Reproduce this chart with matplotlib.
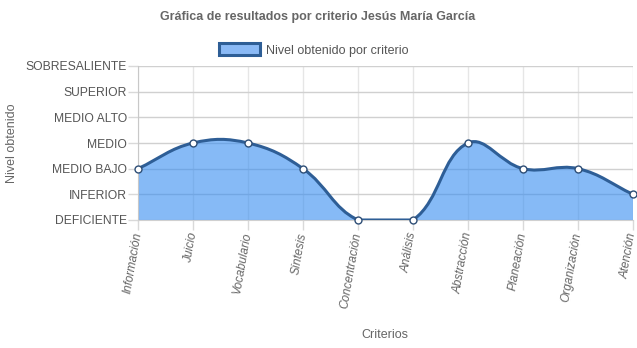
import numpy as np
import matplotlib.pyplot as plt
from matplotlib.path import Path
from matplotlib.patches import PathPatch, Patch

plt.rcParams['font.family'] = ['Liberation Sans', 'DejaVu Sans']

criterios = ['Información', 'Juicio', 'Vocabulario', 'Síntesis', 'Concentración',
             'Análisis', 'Abstracción', 'Planeación', 'Organización', 'Atención']
niveles = ['DEFICIENTE', 'INFERIOR', 'MEDIO BAJO', 'MEDIO', 'MEDIO ALTO',
           'SUPERIOR', 'SOBRESALIENTE']
valores = [2, 3, 3, 2, 0, 0, 3, 2, 2, 1]

W, H = 637, 348
fig = plt.figure(figsize=(W / 100, H / 100), dpi=100)
x0, x1, y0, y1 = 138, 633, 66, 220
ax = fig.add_axes([x0 / W, 1 - y1 / H, (x1 - x0) / W, (y1 - y0) / H])

xs = np.arange(len(criterios), dtype=float)
ys = np.array(valores, dtype=float)
ymax = len(niveles) - 1

# spline with tension 0.4 computed in pixel space, control points kept inside the area
sx = (x1 - x0) / (len(criterios) - 1)
sy = (y1 - y0) / ymax
P = np.column_stack([xs * sx, ys * sy])
tension = 0.4
cp_prev, cp_next = [], []
for i in range(len(P)):
    prev = P[i - 1] if i > 0 else P[i]
    nxt = P[i + 1] if i < len(P) - 1 else P[i]
    d01 = np.hypot(*(P[i] - prev))
    d12 = np.hypot(*(nxt - P[i]))
    tot = d01 + d12
    s01 = d01 / tot if tot else 0
    s12 = d12 / tot if tot else 0
    c1 = P[i] - tension * s01 * (nxt - prev)
    c2 = P[i] + tension * s12 * (nxt - prev)
    for c in (c1, c2):
        c[0] = np.clip(c[0], 0, P[-1, 0])
        c[1] = np.clip(c[1], 0, ymax * sy)
    cp_prev.append(c1)
    cp_next.append(c2)

verts = [P[0]]
codes = [Path.MOVETO]
for i in range(len(P) - 1):
    verts += [cp_next[i], cp_prev[i + 1], P[i + 1]]
    codes += [Path.CURVE4] * 3
verts = np.array(verts) / [sx, sy]

fill_verts = np.vstack([verts, [[xs[-1], 0], [xs[0], 0], verts[0]]])
fill_codes = codes + [Path.LINETO, Path.LINETO, Path.CLOSEPOLY]
ax.add_patch(PathPatch(Path(fill_verts, fill_codes), facecolor='#368cf0',
                       alpha=0.6, edgecolor='none', zorder=2))
ax.add_patch(PathPatch(Path(verts, codes), facecolor='none', edgecolor='#2e5e96',
                       lw=2.2, zorder=3))
ax.plot(xs, ys, 'o', ms=5, mfc='white', mec='#2e4e76', mew=1.0, zorder=4,
        clip_on=False)

ax.set_xlim(0, len(criterios) - 1)
ax.set_ylim(0, ymax)
ax.set_xticks(xs)
ax.set_xticklabels(criterios, rotation=80, ha='right', va='center',
                   rotation_mode='anchor', style='italic', fontsize=8.6, color='#666666')
ax.set_yticks(range(len(niveles)))
ax.set_yticklabels(niveles, fontsize=8.7, color='#555555')
ax.tick_params(axis='both', length=7, color='#d9d9d9', width=1)
ax.tick_params(axis='x', pad=2)
ax.tick_params(axis='y', pad=1)
ax.grid(True, axis='x', color='#e6e6e6', lw=1, zorder=0)
ax.grid(True, axis='y', color='#d0d0d0', lw=1, zorder=0)
ax.set_axisbelow(True)
for s in ['top', 'right']:
    ax.spines[s].set_visible(False)
ax.spines['left'].set_color('#c8c8c8')
ax.spines['bottom'].set_color('#d0d0d0')

fig.text(385 / W, 1 - 335 / H, 'Criterios', ha='center', va='center',
         fontsize=9, color='#666666')
fig.text(12 / W, 1 - 143 / H, 'Nivel obtenido', ha='center', va='center',
         rotation=90, fontsize=9, color='#666666')
fig.text(318 / W, 1 - 17 / H, 'Gráfica de resultados por criterio Jesús María García',
         ha='center', va='center', fontsize=9, fontweight='bold', color='#666666')

handle = Patch(facecolor='#8ab9f5', edgecolor='#2e5e96', lw=2.2)
fig.legend([handle], ['Nivel obtenido por criterio'], loc='center',
           bbox_to_anchor=(314 / W, 1 - 50 / H), frameon=False, fontsize=9,
           handlelength=3.3, handleheight=1.1, handletextpad=0.5,
           labelcolor='#555555')

fig.savefig('out.png', dpi=100)
